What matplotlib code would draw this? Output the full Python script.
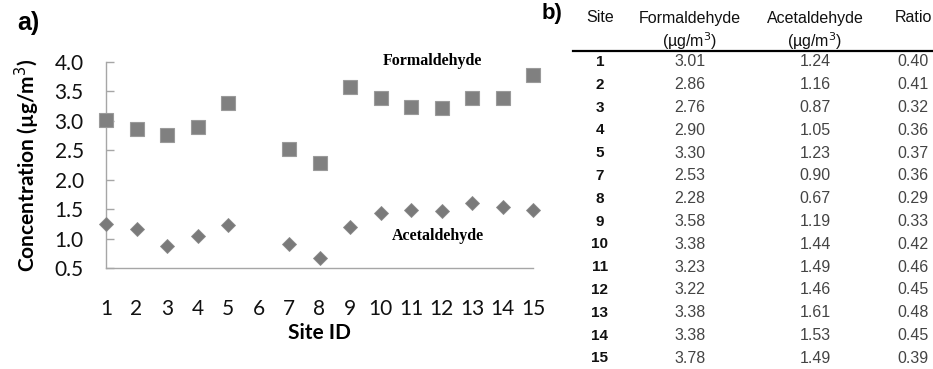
import matplotlib
matplotlib.use("Agg")
import matplotlib.pyplot as plt
from matplotlib.lines import Line2D

# -----------------------------
# DATA
# -----------------------------

sites = [1, 2, 3, 4, 5, 7, 8, 9, 10, 11, 12, 13, 14, 15]
formaldehyde = [3.01, 2.86, 2.76, 2.90, 3.30, 2.53, 2.28, 3.58, 3.38, 3.23, 3.22, 3.38, 3.38, 3.78]
acetaldehyde = [1.24, 1.16, 0.87, 1.05, 1.23, 0.90, 0.67, 1.19, 1.44, 1.49, 1.46, 1.61, 1.53, 1.49]
ratio = [0.40, 0.41, 0.32, 0.36, 0.37, 0.36, 0.29, 0.33, 0.42, 0.46, 0.45, 0.48, 0.45, 0.39]

x_ticks = list(range(1, 16))
y_ticks = [0.5, 1.0, 1.5, 2.0, 2.5, 3.0, 3.5, 4.0]

W, H = 933, 369


def fx(px):
    return px / W


def fy(py):
    return 1 - py / H


# -----------------------------
# PANEL a) SCATTER
# -----------------------------

fig = plt.figure(figsize=(W / 100, H / 100), dpi=100, facecolor="white")

ax = fig.add_axes([fx(106), fy(268), fx(533) - fx(106), fy(62) - fy(268)])

ax.plot(sites, formaldehyde, linestyle="none", marker="s", markersize=9.5,
        markerfacecolor="#808080", markeredgecolor="#9a9a9a", markeredgewidth=0.8,
        clip_on=False, zorder=3)
ax.plot(sites, acetaldehyde, linestyle="none", marker="D", markersize=6.8,
        markerfacecolor="#7a7a7a", markeredgecolor="#8a8a8a", markeredgewidth=0.6,
        clip_on=False, zorder=3)

ax.set_xlim(1, 15)
ax.set_ylim(0.5, 4.0)
ax.set_xticks(x_ticks)
ax.set_yticks(y_ticks)
ax.set_yticklabels([f"{v:.1f}" for v in y_ticks])

for s in ["top", "right"]:
    ax.spines[s].set_visible(False)
for s in ["left", "bottom"]:
    ax.spines[s].set_color("#a6a6a6")
    ax.spines[s].set_linewidth(1.0)

ax.tick_params(axis="y", direction="in", length=6, width=1, color="#a6a6a6",
               pad=16, labelsize=15, labelcolor="#111111")
ax.tick_params(axis="x", length=0, pad=22, labelsize=15, labelcolor="#111111")
for lab in ax.get_xticklabels() + ax.get_yticklabels():
    lab.set_family("Lato")

ax.set_ylabel("Concentration (µg/m$^3$)", fontsize=15, fontweight="bold",
              family="Lato", labelpad=9)
ax.set_xlabel("Site ID", fontsize=15, fontweight="bold", family="Lato", labelpad=3)

ax.text(10.08, 4.02, "Formaldehyde", family="Liberation Serif", fontweight="bold",
        fontsize=11.5, ha="left", va="center")
ax.text(10.38, 1.04, "Acetaldehyde", family="Liberation Serif", fontweight="bold",
        fontsize=11.5, ha="left", va="center")

fig.text(fx(17), fy(23), "a)", fontsize=18, fontweight="bold",
         family="Liberation Sans", ha="left", va="center")

# -----------------------------
# PANEL b) TABLE
# -----------------------------

fig.text(fx(542), fy(14), "b)", fontsize=16, fontweight="bold",
         family="Liberation Sans", ha="left", va="center")

col_x = {"site": 600, "form": 690, "acet": 815, "ratio": 913}
head = dict(family="Liberation Sans", fontsize=11.5, color="#111111",
            ha="center", va="center")

fig.text(fx(col_x["site"]), fy(18), "Site", **head)
fig.text(fx(col_x["form"]), fy(18), "Formaldehyde", **head)
fig.text(fx(col_x["form"]), fy(41), "(µg/m$^3$)", **head)
fig.text(fx(col_x["acet"]), fy(18), "Acetaldehyde", **head)
fig.text(fx(col_x["acet"]), fy(41), "(µg/m$^3$)", **head)
fig.text(fx(col_x["ratio"]), fy(18), "Ratio", **head)

fig.add_artist(Line2D([fx(573), fx(933)], [fy(51), fy(51)], color="black",
                      linewidth=1.6, transform=fig.transFigure))

cell = dict(family="Liberation Sans", fontsize=11.5, color="#444444",
            ha="center", va="center")
row_step = 22.8
for i, site in enumerate(sites):
    y = fy(62 + i * row_step)
    fig.text(fx(col_x["site"]), y, str(site), fontweight="bold",
             family="Liberation Sans", fontsize=11, color="#111111",
             ha="center", va="center")
    fig.text(fx(col_x["form"]), y, f"{formaldehyde[i]:.2f}", **cell)
    fig.text(fx(col_x["acet"]), y, f"{acetaldehyde[i]:.2f}", **cell)
    fig.text(fx(col_x["ratio"]), y, f"{ratio[i]:.2f}", **cell)

fig.savefig("out.png", dpi=100, facecolor="white")
